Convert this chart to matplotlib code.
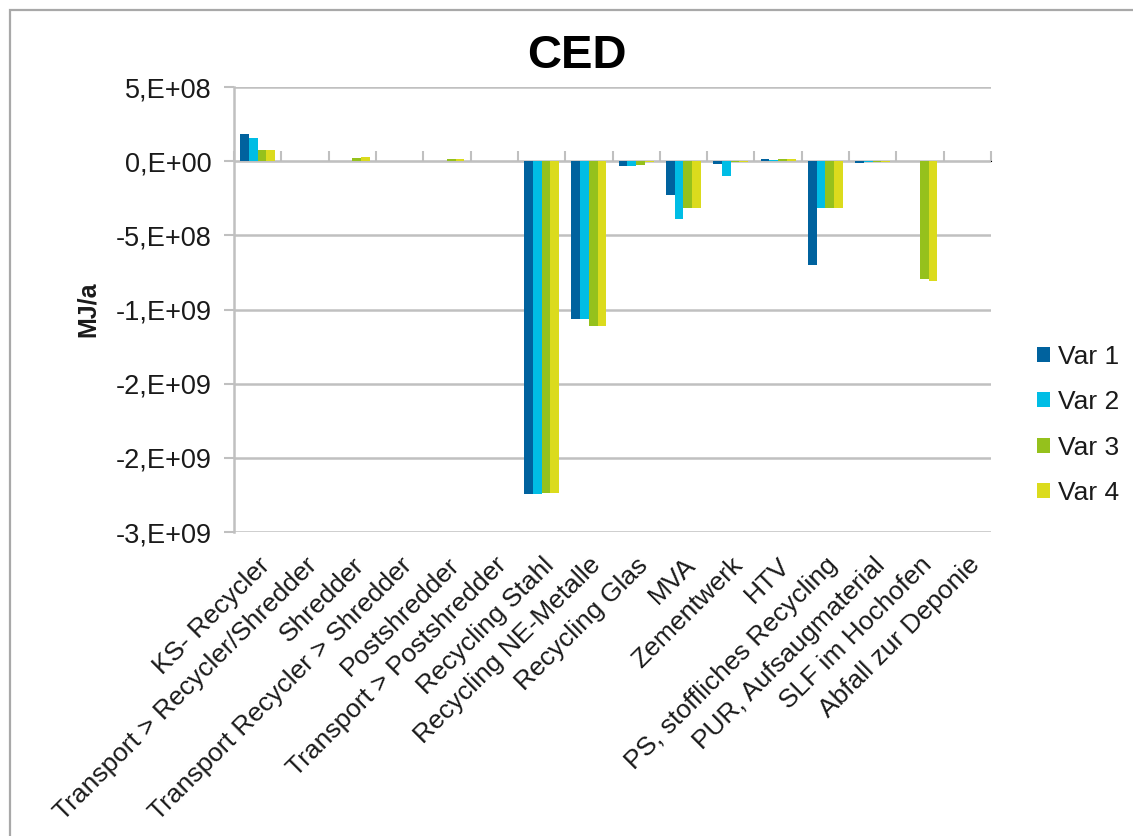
import numpy as np
import matplotlib
matplotlib.use("Agg")
import matplotlib.pyplot as plt
from matplotlib.patches import Rectangle

plt.rcParams["font.family"] = ["Liberation Sans", "DejaVu Sans"]

# Process steps and cumulative energy demand per variant (MJ/a)
categories = [
    "KS- Recycler",
    "Transport > Recycler/Shredder",
    "Shredder",
    "Transport Recycler > Shredder",
    "Postshredder",
    "Transport > Postshredder",
    "Recycling Stahl",
    "Recycling NE-Metalle",
    "Recycling Glas",
    "MVA",
    "Zementwerk",
    "HTV",
    "PS, stoffliches Recycling",
    "PUR, Aufsaugmaterial",
    "SLF im Hochofen",
    "Abfall zur Deponie",
]
var1 = [1.80e8, 0, 0, 0, 0, 0, -2.245e9, -1.065e9, -3.1e7, -2.29e8, -2.0e7, 1.2e7, -7.01e8, -1.2e7, 0, 0]
var2 = [1.57e8, 0, 0, 0, 0, 0, -2.245e9, -1.065e9, -3.1e7, -3.91e8, -9.9e7, 1.0e7, -3.13e8, -3.0e6, 0, 0]
var3 = [7.2e7, 0, 1.8e7, 0, 1.5e7, 0, -2.237e9, -1.110e9, -2.9e7, -3.19e8, -5.0e6, 1.5e7, -3.13e8, -8.0e6, -7.93e8, 0]
var4 = [7.2e7, 0, 2.8e7, 0, 1.5e7, 0, -2.237e9, -1.110e9, -8.0e6, -3.19e8, -5.0e6, 1.3e7, -3.13e8, -8.0e6, -8.07e8, 0]
series_names = ["Var 1", "Var 2", "Var 3", "Var 4"]

y_ticks = [5e8, 0, -5e8, -1.0e9, -1.5e9, -2.0e9, -2.5e9]
y_tick_labels = ["5,E+08", "0,E+00", "-5,E+08", "-1,E+09", "-2,E+09", "-2,E+09", "-3,E+09"]

colors = ["#00629e", "#00bde5", "#95c11c", "#dbdb1d"]
grid_color = "#c0c0c0"
text_color = "#1a1a1a"

W, H = 1133, 836
fig = plt.figure(figsize=(W / 100, H / 100), dpi=100)
fig.patch.set_facecolor("white")

# outer chart frame
fig.add_artist(Rectangle((10 / W, -0.05), 1.2, 1.05 - 10 / H,
                         transform=fig.transFigure, fill=False,
                         edgecolor="#a8a8a8", linewidth=1.6))

left, right, top, bottom = 234, 991, 87, 532
ax = fig.add_axes([left / W, 1 - bottom / H, (right - left) / W, (bottom - top) / H])

x = np.arange(len(categories))
bar_w = 0.184
for i, (vals, name, c) in enumerate(zip([var1, var2, var3, var4], series_names, colors)):
    ax.bar(x + (i - 1.5) * bar_w, vals, width=bar_w, color=c, label=name,
           edgecolor="none", zorder=3)

ymin, ymax = -2.5e9, 5e8
ax.set_ylim(ymin, ymax)
ax.set_xlim(-0.5, len(categories) - 0.5)

ax.set_yticks(y_ticks)
ax.set_yticklabels(y_tick_labels)
ax.yaxis.grid(True, color=grid_color, linewidth=1.8, zorder=0)
ax.set_axisbelow(True)
ax.tick_params(axis="y", direction="out", length=7, width=1.5, color=grid_color,
               labelsize=19.5, labelcolor=text_color, pad=9)

ax.set_xticks(x)
ax.set_xticklabels(categories, rotation=45, ha="right", rotation_mode="anchor")
ax.tick_params(axis="x", length=0, labelsize=19, labelcolor=text_color, pad=15)

for side in ["top", "right", "bottom"]:
    ax.spines[side].set_visible(False)
ax.spines["left"].set_color(grid_color)
ax.spines["left"].set_linewidth(1.8)

# category axis drawn along the zero line
zero_pos = (0 - ymin) / (ymax - ymin)
sec = ax.secondary_xaxis(zero_pos)
sec.set_xticks(np.arange(len(categories) + 1) - 0.5)
sec.set_xticklabels([])
sec.tick_params(direction="out", length=7, width=1.5, color=grid_color)
sec.spines["bottom"].set_color(grid_color)
sec.spines["bottom"].set_linewidth(1.8)

ax.set_ylabel("MJ/a", fontsize=18, fontweight="bold", color=text_color)
ax.yaxis.set_label_coords((100 - left) / (right - left), 0.5)

fig.text(577 / W, 1 - 56 / H, "CED", ha="center", va="center",
         fontsize=34, fontweight="bold", color="black")

leg = ax.legend(loc="center left", bbox_to_anchor=(1024 / W, 1 - 425 / H),
                bbox_transform=fig.transFigure, frameon=False, fontsize=19,
                handlelength=0.5, handleheight=0.5, handletextpad=0.3,
                labelspacing=0.81, borderpad=0)
for t in leg.get_texts():
    t.set_color(text_color)

fig.savefig("out.png", dpi=100)
